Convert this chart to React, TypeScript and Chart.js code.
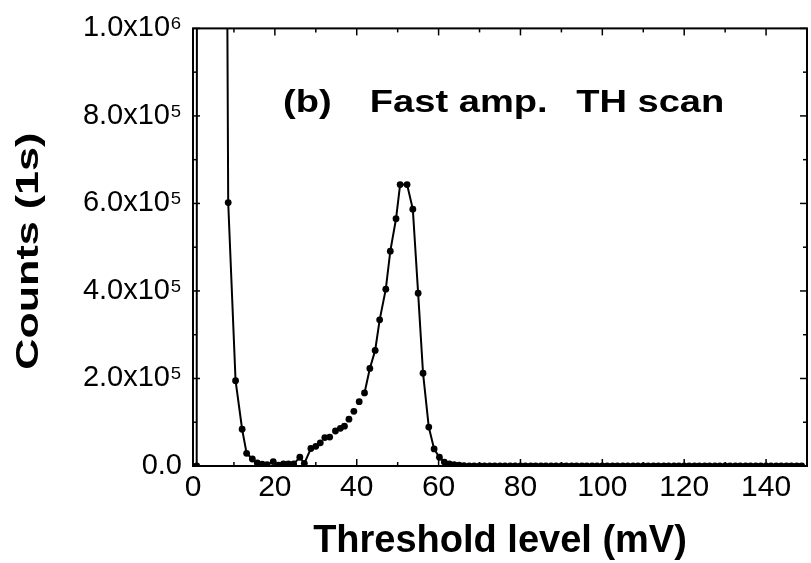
import React, { useEffect, useRef } from "react";
import { Chart, registerables } from "chart.js";

Chart.register(...registerables);

// Threshold (mV) and counts per second
const thresholdMv = [
  0.9, 1.1, 2.3, 3.5, 4.8, 6.0, 7.4, 8.6, 10.4, 12.0, 13.1, 14.5, 15.7, 16.9, 18.1, 19.6,
  20.9, 22.1, 23.3, 24.6, 26.1, 27.2, 28.8, 30.0, 31.1, 32.2, 33.4, 34.8, 36.0, 37.0, 38.1,
  39.3, 40.6, 41.9, 43.2, 44.5, 45.6, 47.1, 48.2, 49.6, 50.6, 52.3, 53.7, 55.0, 56.2, 57.6,
  58.9, 60.2, 61.4, 62.6, 63.8, 65.0, 66.2, 67.5, 68.7, 70.0, 71.2, 72.5, 73.7, 75.0, 76.2,
  77.5, 78.7, 80.0, 81.2, 82.5, 83.7, 85.0, 86.2, 87.5, 88.7, 90.0, 91.2, 92.5, 93.7, 95.0,
  96.2, 97.5, 98.7, 100.0, 101.2, 102.5, 103.7, 105.0, 106.2, 107.5, 108.7, 110.0, 111.2,
  112.5, 113.7, 115.0, 116.2, 117.5, 118.7, 120.0, 121.2, 122.5, 123.7, 125.0, 126.2, 127.5,
  128.7, 130.0, 131.2, 132.5, 133.7, 135.0, 136.2, 137.5, 138.7, 140.0, 141.2, 142.5, 143.7,
  145.0, 146.2, 147.5, 148.7, 150.0,
];
const counts = [
  0, 4.0e6, 9.0e6, 9.5e6, 9.0e6, 7.0e6, 3.0e6, 6.02e5, 1.95e5, 8.4e4, 2.9e4, 1.6e4, 7e3, 4e3, 3e3, 1.0e4,
  2e3, 5e3, 5e3, 5e3, 2.0e4, 6e3, 4.0e4, 4.5e4, 5.3e4, 6.5e4, 6.6e4, 8.0e4, 8.6e4, 9.1e4, 1.07e5,
  1.25e5, 1.47e5, 1.67e5, 2.23e5, 2.64e5, 3.34e5, 4.04e5, 4.91e5, 5.65e5, 6.43e5, 6.43e5, 5.87e5, 3.95e5, 2.12e5, 8.9e4,
  3.9e4, 2.0e4, 9e3, 5e3, 3e3, 2e3, 1e3, 0, 0, 0, 0, 0, 0, 0, 0,
  0, 0, 0, 0, 0, 0, 0, 0, 0, 0, 0, 0, 0, 0, 0,
  0, 0, 0, 0, 0, 0, 0, 0, 0, 0, 0, 0, 0,
  0, 0, 0, 0, 0, 0, 0, 0, 0, 0, 0, 0,
  0, 0, 0, 0, 0, 0, 0, 0, 0, 0, 0, 0, 0,
  0, 0, 0, 0, 0,
];

const xTickLabels = ["0", "20", "40", "60", "80", "100", "120", "140"];
const yTickLabels = ["0.0", "2.0x10\u2075", "4.0x10\u2075", "6.0x10\u2075", "8.0x10\u2075", "1.0x10\u2076"];
const xAxisTitle = "Threshold level (mV)";
const yAxisTitle = "Counts (1s)";
const panelLabel = "(b)";
const panelTitleA = "Fast amp.";
const panelTitleB = "TH scan";

const FONT = "'Liberation Sans', Arial, Helvetica, sans-serif";

const framePlugin = {
  id: "frameAndText",
  afterDraw(chart: any) {
    const { ctx, chartArea: a } = chart;
    const x = chart.scales.x;
    const y = chart.scales.y;
    ctx.save();
    ctx.strokeStyle = "#000";
    ctx.fillStyle = "#000";
    ctx.lineWidth = 2;
    ctx.strokeRect(a.left, a.top, a.right - a.left, a.bottom - a.top);
    ctx.lineWidth = 1.5;
    const seg = (x1: number, y1: number, x2: number, y2: number) => {
      ctx.beginPath();
      ctx.moveTo(x1, y1);
      ctx.lineTo(x2, y2);
      ctx.stroke();
    };
    for (let v = x.min; v <= x.max + 1e-9; v += 10) {
      const px = x.getPixelForValue(v);
      const len = Math.round(v) % 20 === 0 ? 7 : 4;
      seg(px, a.bottom, px, a.bottom - len);
      seg(px, a.top, px, a.top + len);
    }
    for (let v = y.min; v <= y.max + 1; v += 1e5) {
      const py = y.getPixelForValue(v);
      const len = Math.round(v / 1e5) % 2 === 0 ? 7 : 4;
      seg(a.left, py, a.left + len, py);
      seg(a.right, py, a.right - len, py);
    }

    // Y axis title (rotated)
    ctx.save();
    ctx.translate(38, (a.top + a.bottom) / 2 + 4);
    ctx.rotate(-Math.PI / 2);
    ctx.font = `bold 31px ${FONT}`;
    const w = ctx.measureText(yAxisTitle).width;
    ctx.scale(237 / w, 1);
    ctx.textAlign = "center";
    ctx.textBaseline = "alphabetic";
    ctx.fillText(yAxisTitle, 0, 0);
    ctx.restore();

    // Panel annotation placed in data coordinates
    ctx.font = `bold 32px ${FONT}`;
    ctx.textAlign = "left";
    ctx.textBaseline = "alphabetic";
    const by = y.getPixelForValue(8.1e5);
    const put = (t: string, mv: number) => {
      ctx.save();
      ctx.translate(x.getPixelForValue(mv), by);
      ctx.scale(1.19, 1);
      ctx.fillText(t, 0, 0);
      ctx.restore();
    };
    put(panelLabel, 22);
    put(panelTitleA, 43.2);
    put(panelTitleB, 93.6);
    ctx.restore();
  },
};

export default function App() {
  const ref = useRef<HTMLCanvasElement | null>(null);
  useEffect(() => {
    if (!ref.current) return;
    const chart = new Chart(ref.current, {
      type: "line",
      data: {
        datasets: [
          {
            data: thresholdMv.map((t, i) => ({ x: t, y: counts[i] })),
            borderColor: "#000",
            borderWidth: 2,
            backgroundColor: "#000",
            pointBackgroundColor: "#000",
            pointBorderWidth: 0,
            pointRadius: 3.4,
            tension: 0,
            fill: false,
            segment: {
              borderColor: (c: any) =>
                c.p0.parsed.x >= 28 && c.p1.parsed.x <= 42 ? "rgba(0,0,0,0)" : "#000",
            },
          },
        ],
      },
      options: {
        animation: false,
        responsive: true,
        maintainAspectRatio: false,
        layout: { padding: { top: 22, right: 2, left: 0, bottom: 0 } },
        plugins: { legend: { display: false }, tooltip: { enabled: false }, title: { display: false } },
        scales: {
          x: {
            type: "linear",
            min: 0,
            max: 150,
            afterFit: (s: any) => {
              s.height = 97;
            },
            grid: { display: false, drawTicks: false },
            border: { display: false },
            ticks: {
              stepSize: 20,
              includeBounds: false,
              padding: 4,
              color: "#000",
              font: { family: FONT, size: 30 },
              callback: (_v: any, i: number) => xTickLabels[i],
              maxRotation: 0,
              autoSkip: false,
            },
            title: {
              display: true,
              text: xAxisTitle,
              color: "#000",
              font: { family: FONT, size: 38, weight: "bold" },
              padding: { top: 0, bottom: -1 },
            },
          },
          y: {
            type: "linear",
            min: 0,
            max: 1e6,
            afterFit: (s: any) => {
              s.width = 193;
            },
            grid: { display: false, drawTicks: false },
            border: { display: false },
            ticks: {
              stepSize: 2e5,
              padding: 11,
              color: "#000",
              font: { family: FONT, size: 29 },
              callback: (_v: any, i: number) => yTickLabels[i],
              autoSkip: false,
            },
          },
        },
      },
      plugins: [framePlugin],
    });
    return () => chart.destroy();
  }, []);
  return (
    <div style={{ position: "fixed", left: 0, top: 0, width: 811, height: 563, background: "#fff" }}>
      <canvas ref={ref} />
    </div>
  );
}
